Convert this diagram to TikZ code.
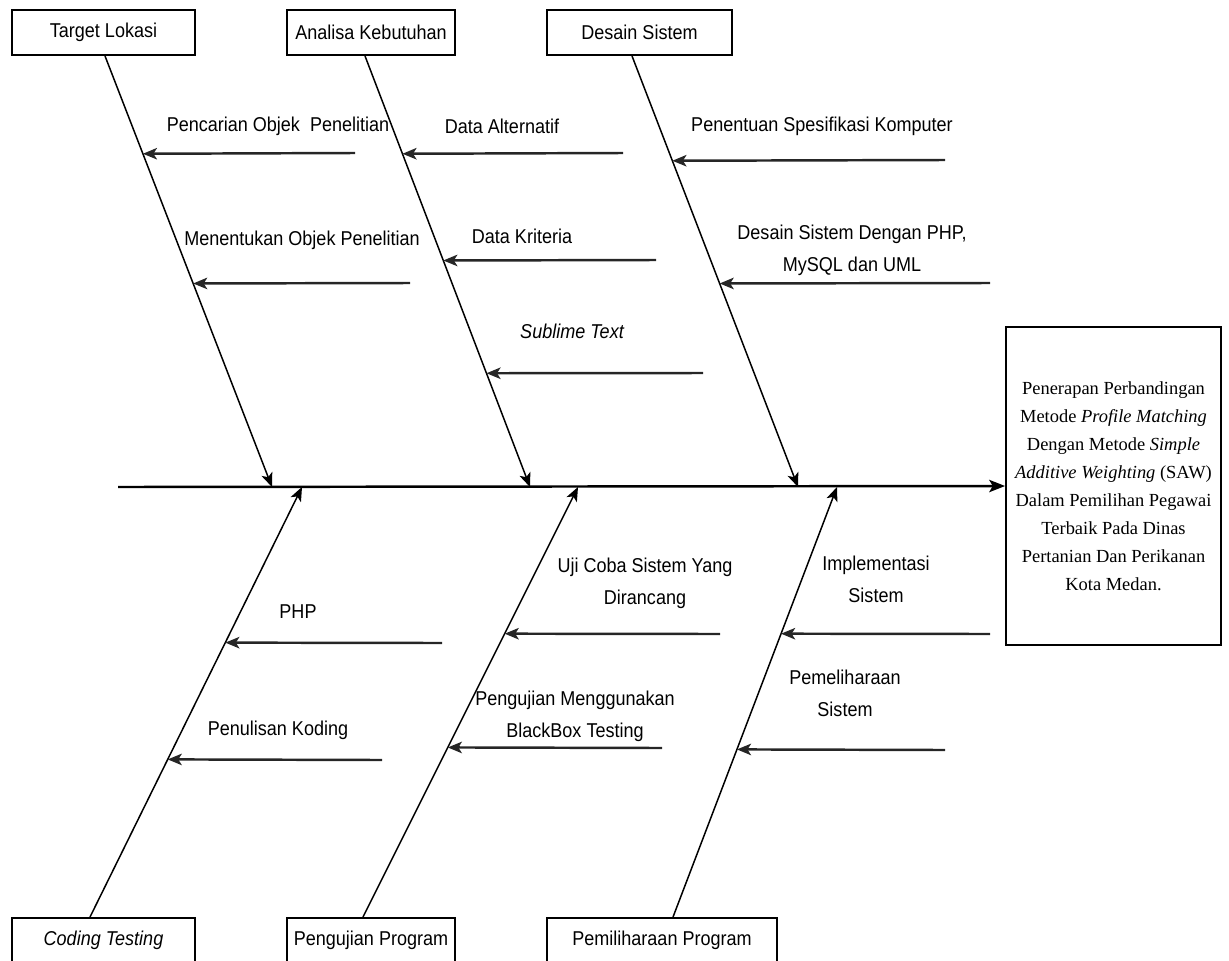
\documentclass[tikz,border=0pt]{standalone}
\usepackage{fontspec}
\setmainfont{Liberation Serif}
\newfontfamily\lblfont[FakeStretch=0.9]{Liberation Sans}
\usetikzlibrary{arrows.meta,calc}
\begin{document}
\begin{tikzpicture}[x=0.02cm,y=-0.02cm,
  catbox/.style={draw, line width=1.1pt, minimum height=0.9cm, inner sep=0pt,
    font=\lblfont\fontsize{11.4}{13}\selectfont},
  lbl/.style={font=\lblfont\fontsize{11.4}{18.2}\selectfont, align=center, inner sep=0pt},
  bone/.style={line width=0.85pt, -{Stealth[length=8pt,width=6.5pt,inset=2pt]}},
  sub/.style={line width=1.4pt, black!85, -{Stealth[length=8pt,width=6.5pt,inset=2pt]}},
  spine/.style={line width=1.4pt, -{Stealth[length=9pt,width=7pt,inset=2pt]}}]
\useasboundingbox (0,0) rectangle (1229,960);

% category boxes
\node[catbox, minimum width=3.66cm] (t1) at (103.5,32.5) {Target Lokasi};
\node[catbox, minimum width=3.36cm] (t2) at (371,32.5) {Analisa Kebutuhan};
\node[catbox, minimum width=3.7cm]  (t3) at (639.5,32.5) {Desain Sistem};
\node[catbox, minimum width=3.66cm] (b1) at (103.5,940.5) {\itshape Coding Testing};
\node[catbox, minimum width=3.36cm] (b2) at (371,940.5) {Pengujian Program};
\node[catbox, minimum width=4.6cm]  (b3) at (662,940.5) {Pemiliharaan Program};

% effect box
\node[draw, line width=1.1pt, minimum width=4.3cm, minimum height=6.36cm, inner sep=0pt,
  align=center, font=\fontsize{10.5}{15.9}\selectfont] (eff) at (1113.5,486)
  {Penerapan Perbandingan\\Metode \textit{Profile Matching}\\Dengan Metode \textit{Simple}\\
   \textit{Additive Weighting} (SAW)\\Dalam Pemilihan Pegawai\\Terbaik Pada Dinas\\
   Pertanian Dan Perikanan\\Kota Medan.};

% spine
\coordinate (sp0) at (118,487);
\draw[spine] (sp0) -- (eff.west);

% spine points
\coordinate (s1) at (272,487);
\coordinate (s2) at (530,487);
\coordinate (s3) at (798,487);
\coordinate (s4) at (302,487);
\coordinate (s5) at (578,487);
\coordinate (s6) at (837,487);

% bone starts
\coordinate (t1b) at ($(t1.south)+(1.5,0)$);
\coordinate (t2b) at ($(t2.south)+(-6,0)$);
\coordinate (t3b) at ($(t3.south)+(-7.5,0)$);
\coordinate (b1b) at ($(b1.north)+(-13.5,0)$);
\coordinate (b2b) at ($(b2.north)+(-8,0)$);
\coordinate (b3b) at ($(b3.north)+(11,0)$);

\draw[bone] (t1b) -- (s1);
\draw[bone] (t2b) -- (s2);
\draw[bone] (t3b) -- (s3);
\draw[bone] (b1b) -- (s4);
\draw[bone] (b2b) -- (s5);
\draw[bone] (b3b) -- (s6);

% sub-cause arrow tips on bones
\coordinate (p1) at ($(t1b)!0.2269!(s1)$);
\coordinate (p2) at ($(t1b)!0.5278!(s1)$);
\coordinate (p3) at ($(t2b)!0.2269!(s2)$);
\coordinate (p4) at ($(t2b)!0.4745!(s2)$);
\coordinate (p5) at ($(t2b)!0.7361!(s2)$);
\coordinate (p6) at ($(t3b)!0.2431!(s3)$);
\coordinate (p7) at ($(t3b)!0.5278!(s3)$);
\coordinate (p8) at ($(b1b)!0.6381!(s4)$);
\coordinate (p9) at ($(b1b)!0.3666!(s4)$);
\coordinate (p10) at ($(b2b)!0.6589!(s5)$);
\coordinate (p11) at ($(b2b)!0.3944!(s5)$);
\coordinate (p12) at ($(b3b)!0.6589!(s6)$);
\coordinate (p13) at ($(b3b)!0.3898!(s6)$);

% sub-cause arrow tails
\coordinate (r1) at (355,153);
\coordinate (r2) at (410,283);
\coordinate (r3) at (623,153);
\coordinate (r4) at (656,260);
\coordinate (r5) at (703,373);
\coordinate (r6) at (945,160);
\coordinate (r7) at (990,283);
\coordinate (r8) at (442,643);
\coordinate (r9) at (382,760);
\coordinate (r10) at (720,634);
\coordinate (r11) at (662,748);
\coordinate (r12) at (990,634);
\coordinate (r13) at (945,750);

\foreach \i in {1,...,13} { \draw[sub] (r\i) -- (p\i); }

% labels
\node[lbl] (l1) at (278,126) {Pencarian Objek\ \ Penelitian};
\node[lbl] (l2) at (302,240) {Menentukan Objek Penelitian};
\node[lbl] (l3) at (502,126) {Data Alternatif};
\node[lbl] (l4) at (522,236) {Data Kriteria};
\node[lbl] (l5) at (572,331) {\itshape Sublime Text};
\node[lbl] (l6) at (822,126) {Penentuan Spesifikasi Komputer};
\node[lbl] (l7) at (852,250) {Desain Sistem Dengan PHP,\\MySQL dan UML};
\node[lbl] (l8) at (298,612) {PHP};
\node[lbl] (l9) at (278,730) {Penulisan Koding};
\node[lbl] (l10) at (645,583) {Uji Coba Sistem Yang\\Dirancang};
\node[lbl] (l11) at (575,716) {Pengujian Menggunakan\\BlackBox Testing};
\node[lbl] (l12) at (876,579) {Implementasi\\Sistem};
\node[lbl] (l13) at (845,693) {Pemeliharaan\\Sistem};
\end{tikzpicture}
\end{document}
